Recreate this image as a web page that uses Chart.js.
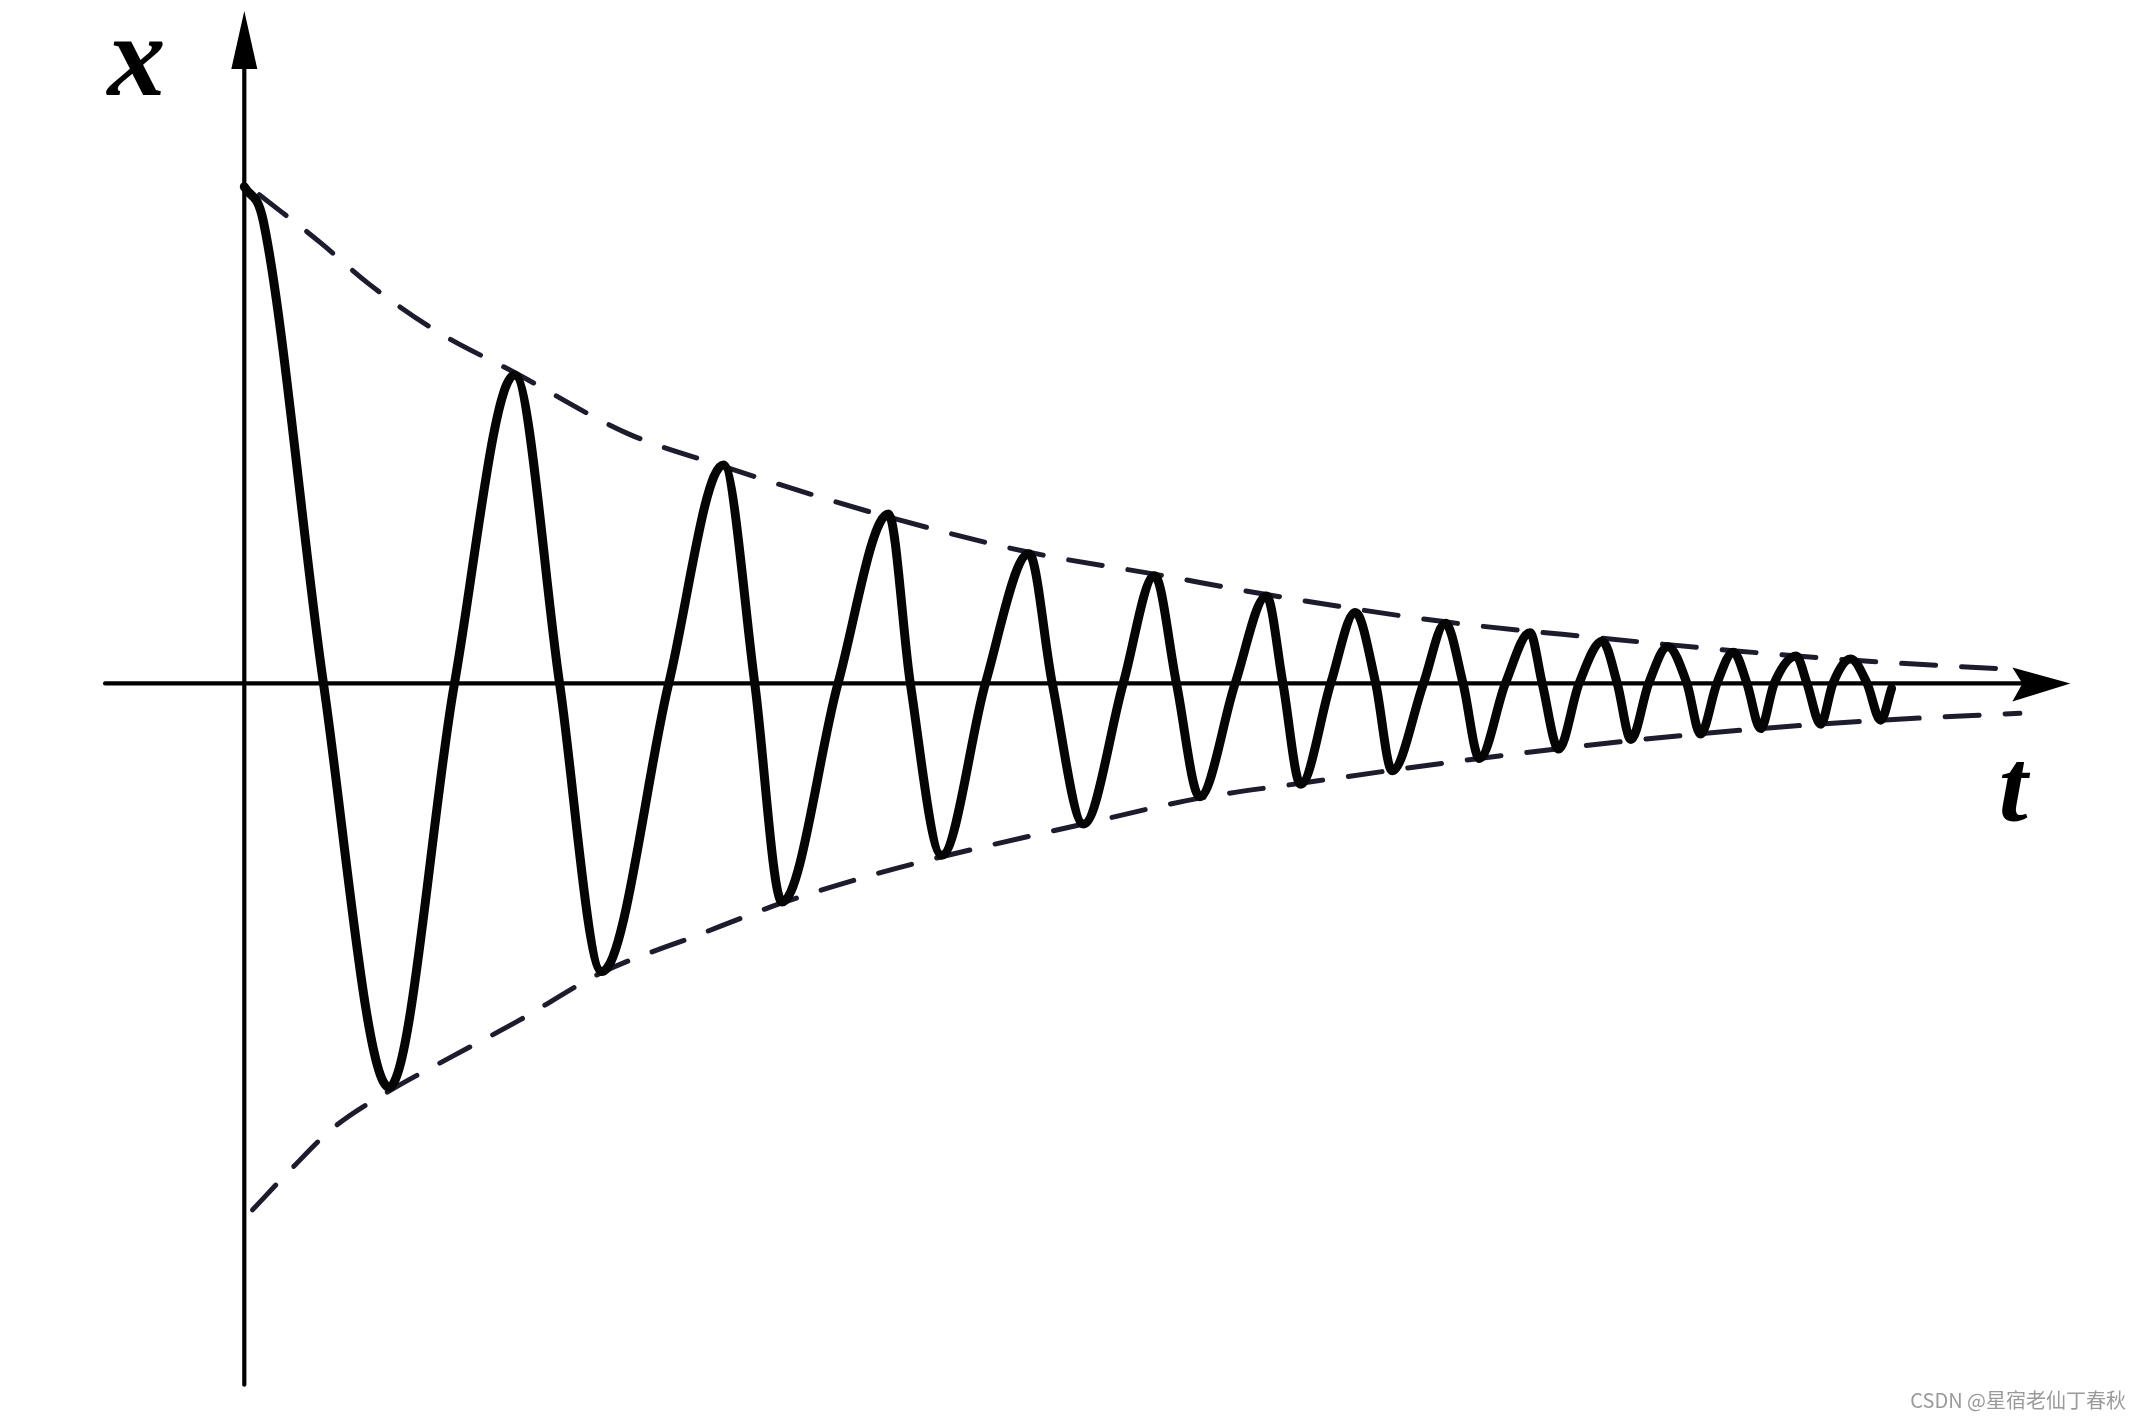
<!DOCTYPE html>
<html><head><meta charset="utf-8">
<script src="https://cdn.jsdelivr.net/npm/chart.js@4/dist/chart.umd.min.js"></script>
<style>html,body{margin:0;padding:0;background:#fff;overflow:hidden}canvas{display:block}</style>
</head><body>
<canvas id="c" width="2140" height="1419"></canvas>
<script>
// Damped oscillation: t (time), x (displacement, start = 1)
const waveT = [0, 0.14, 0.58, 1.06, 1.54, 1.98, 2.31, 2.62, 3.11, 3.51, 3.74, 3.94, 4.35, 4.72, 4.88, 5.11, 5.43, 5.75, 5.92, 6.15, 6.44, 6.67, 6.83, 7.00, 7.26, 7.49, 7.61, 7.74, 7.96, 8.14, 8.29, 8.41, 8.64, 8.80, 8.93, 9.05, 9.24, 9.42, 9.51, 9.63, 9.78, 9.95, 10.06, 10.16, 10.29, 10.43, 10.57, 10.67, 10.79, 10.91, 11.01, 11.11, 11.21, 11.37, 11.45, 11.55, 11.64, 11.77, 11.89, 11.99, 12.07];
const waveX = [1.0, 0.93, 0, -0.813, 0, 0.621, 0, -0.580, 0, 0.440, 0, -0.440, 0, 0.341, 0, -0.346, 0, 0.261, 0, -0.283, 0, 0.217, 0, -0.228, 0, 0.176, 0, -0.203, 0, 0.143, 0, -0.176, 0, 0.121, 0, -0.151, 0, 0.102, 0, -0.132, 0, 0.085, 0, -0.113, 0, 0.074, 0, -0.102, 0, 0.063, 0, -0.091, 0, 0.055, 0, -0.082, 0, 0.049, 0, -0.074, -0.01];

// Dashed envelopes
const upperT = [0.11, 0.56, 0.91, 1.41, 1.98, 2.81, 3.51, 4.21, 4.72, 5.75, 6.67, 7.49, 8.80, 9.95, 10.91, 11.77, 13.01];
const upperX = [0.984, 0.887, 0.805, 0.709, 0.626, 0.503, 0.437, 0.376, 0.335, 0.264, 0.220, 0.179, 0.124, 0.091, 0.066, 0.047, 0.027];
const lowerT = [0.06, 0.36, 0.66, 1.06, 1.51, 2.01, 2.62, 3.31, 3.94, 4.61, 5.11, 6.15, 7.00, 7.74, 9.05, 10.16, 11.11, 11.99, 13.01];
const lowerX = [-1.060, -0.973, -0.893, -0.821, -0.753, -0.679, -0.582, -0.508, -0.442, -0.385, -0.349, -0.283, -0.231, -0.201, -0.151, -0.115, -0.091, -0.074, -0.060];

// Axis extents and view window
const tRange = [-1.79, 13.89];
const xRange = [-1.481, 1.376];
const tAxisExtent = [-1.02, 13.38];
const xAxisExtent = [-1.412, 1.354];
const axisNames = ['x', 't'];
const watermark = 'CSDN @星宿老仙丁春秋';

const pts = (a, b) => a.map((v, i) => ({x: v, y: b[i]}));

const axesPlugin = {
  id: 'axes',
  beforeDatasetsDraw(chart) {
    const {ctx, scales: {x: sx, y: sy}} = chart;
    const x0 = sx.getPixelForValue(0), y0 = sy.getPixelForValue(0);
    ctx.save();
    ctx.strokeStyle = '#000'; ctx.fillStyle = '#000';
    ctx.lineWidth = 4.2; ctx.lineCap = 'round';
    // horizontal axis
    const hx1 = sx.getPixelForValue(tAxisExtent[0]), hx2 = sx.getPixelForValue(tAxisExtent[1]);
    ctx.beginPath(); ctx.moveTo(hx1, y0); ctx.lineTo(hx2 - 30, y0); ctx.stroke();
    ctx.beginPath();
    ctx.moveTo(hx2, y0); ctx.lineTo(hx2 - 58, y0 - 16); ctx.lineTo(hx2 - 48, y0); ctx.lineTo(hx2 - 58, y0 + 18); ctx.closePath(); ctx.fill();
    // vertical axis
    const vy1 = sy.getPixelForValue(xAxisExtent[0]), vy2 = sy.getPixelForValue(xAxisExtent[1]);
    ctx.beginPath(); ctx.moveTo(x0, vy1); ctx.lineTo(x0, vy2 + 30); ctx.stroke();
    ctx.beginPath();
    ctx.moveTo(x0, vy2); ctx.lineTo(x0 - 13, vy2 + 58); ctx.lineTo(x0 + 13, vy2 + 58); ctx.closePath(); ctx.fill();
    ctx.restore();
  },
  afterDraw(chart) {
    const {ctx, scales: {x: sx, y: sy}} = chart;
    ctx.save();
    ctx.fillStyle = '#000';
    ctx.font = 'italic bold 116px "Liberation Serif", "DejaVu Serif", serif';
    ctx.textAlign = 'center'; ctx.textBaseline = 'alphabetic';
    ctx.fillText(axisNames[0], sx.getPixelForValue(-0.79), sy.getPixelForValue(1.185));
    ctx.font = 'italic bold 104px "Liberation Serif", "DejaVu Serif", serif';
    ctx.fillText(axisNames[1], sx.getPixelForValue(12.96), sy.getPixelForValue(-0.275));
    ctx.font = '20px "Noto Sans CJK SC", "Noto Sans", sans-serif';
    ctx.fillStyle = '#9a9a9a';
    ctx.textAlign = 'right'; ctx.textBaseline = 'middle';
    ctx.fillText(watermark, 2126, 1400);
    ctx.restore();
  }
};

new Chart(document.getElementById('c'), {
  type: 'scatter',
  data: {
    datasets: [
      {data: pts(waveT, waveX), showLine: true, borderColor: '#050505', borderWidth: 9,
       pointRadius: 0, cubicInterpolationMode: 'monotone', borderCapStyle: 'round', borderJoinStyle: 'round'},
      {data: pts(upperT, upperX), showLine: true, borderColor: '#1c1c2e', borderWidth: 5,
       borderDash: [34, 26], pointRadius: 0, cubicInterpolationMode: 'monotone', borderCapStyle: 'round'},
      {data: pts(lowerT, lowerX), showLine: true, borderColor: '#1c1c2e', borderWidth: 5,
       borderDash: [34, 26], pointRadius: 0, cubicInterpolationMode: 'monotone', borderCapStyle: 'round'}
    ]
  },
  options: {
    responsive: false, animation: false, devicePixelRatio: 1,
    layout: {padding: 0},
    plugins: {legend: {display: false}, tooltip: {enabled: false}},
    scales: {
      x: {type: 'linear', min: tRange[0], max: tRange[1], display: false},
      y: {type: 'linear', min: xRange[0], max: xRange[1], display: false}
    }
  },
  plugins: [axesPlugin]
});
</script>
</body></html>
